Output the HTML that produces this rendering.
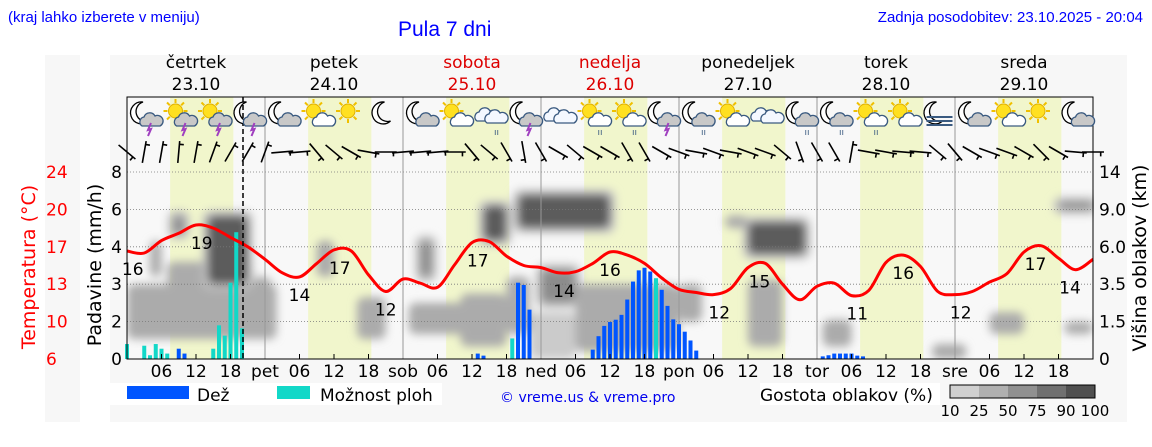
<!DOCTYPE html>
<html><head><meta charset="utf-8">
<style>
body{margin:0;background:#fff;width:1152px;height:443px;overflow:hidden;font-family:"DejaVu Sans","Liberation Sans",sans-serif}
svg text{font-family:"DejaVu Sans","Liberation Sans",sans-serif}
.hdr{font-family:"Liberation Sans",sans-serif;fill:#0000ff}
</style></head><body>
<svg id="chart" width="1152" height="443" viewBox="0 0 1152 443" xmlns="http://www.w3.org/2000/svg">
<defs><filter id="blur" x="-30%" y="-30%" width="160%" height="160%"><feGaussianBlur stdDeviation="4.5"/></filter>
<clipPath id="plotclip"><rect x="127" y="172" width="967" height="187"/></clipPath></defs>
<rect x="45" y="55" width="35" height="367" fill="#f7f7f7"/>
<rect x="110" y="55" width="1017" height="367" fill="#f7f7f7"/>
<text class="hdr" x="8" y="22" font-size="15">(kraj lahko izberete v meniju)</text>
<text class="hdr" x="398" y="36" font-size="21">Pula 7 dni</text>
<text class="hdr" x="1143" y="22" font-size="15" text-anchor="end">Zadnja posodobitev: 23.10.2025 - 20:04</text>
<g id="plot"></g>
</svg>
<script>
const days=["četrtek","petek","sobota","nedelja","ponedeljek","torek","sreda"];
const dates=["23.10","24.10","25.10","26.10","27.10","28.10","29.10"];
const dayAbbr=["","pet","sob","ned","pon","tor","sre"];
const weekend=[false,false,true,true,false,false,false];
const tempTicks=[6,10,13,17,20,24];
const rainTicks=[0,2,3,4,6,8];
const cloudTicks=["0","1.5","3.5","6.0","9.0","14"];
const cloudKm=[0,1.5,3.5,6,9,14];
// temperature every 3 hours from h0 to h168
const temps=[16.4,16.2,17.4,18.1,18.9,18.6,17.7,16.8,15.6,14.3,13.9,15.2,16.5,16.4,14.1,12.5,13.7,13.3,12.9,15.1,17.2,17.3,15.9,15.0,14.8,14.3,14.4,15.2,16.3,16.0,15.2,13.8,12.7,12.4,12.2,12.8,14.8,15.2,13.2,11.7,13.0,13.3,12.1,12.6,15.3,16.0,14.9,12.5,12.2,12.5,13.4,14.2,16.3,16.9,15.7,14.6,15.6];
const labelHours=[1,13,30,37,45,61,76,84,103,110,127,135,145,158,164];
const labelTemps=[16,19,14,17,12,17,14,16,12,15,11,16,12,17,14];
// rain (Dež) hourly
const rainHours=[9,10,61,62,68,69,70,81,82,83,84,85,86,87,88,89,90,91,93,94,95,96,97,98,99,121,122,123,124,125,126,127,128];
const rainVals=[0.55,0.29,0.29,0.18,3.04,2.98,2.32,0.5,1.22,1.77,1.98,2.05,2.18,2.59,3.07,3.37,3.44,3.34,2.85,2.42,2.06,1.86,1.46,0.99,0.45,0.14,0.2,0.29,0.29,0.29,0.29,0.18,0.14];
// showers (Možnost ploh)
const showerHours=[0,3,4,5,6,7,15,16,17,18,19,20,67,92];
const showerVals=[0.8,0.71,0.2,0.8,0.55,0.29,0.55,1.8,1.25,3.04,4.78,1.64,1.1,3.16];
// cloud blobs: start hour, end hour, low km, high km, density level
const cloudH0=[0,7,14,4,8,22,33,40,49,51,58,62,66,68,72,78,70,96,108,108,104,121,140,150,163,162];
const cloudH1=[26,22,21,6,10,25,36,45,60,53,66,66,70,84,78,96,78,100,114,118,108,126,146,156,168,168];
const cloudLo=[0.8,1.5,3.5,4,7,1.5,4,0.8,1,4,0.5,6.5,1,7.5,2.5,0.3,0,1.5,0.5,5.5,7.5,0.5,0,1,1,9];
const cloudHi=[3.5,5,8.5,6.5,8.5,4,6.5,2.8,2.5,6.5,3,9.5,4,11,4.5,3.5,2,3.5,3.8,8,8.5,1.6,0.6,2,1.5,10];
const cloudLvl=[2,2,4,2,3,2,2,2,2,3,2,4,2,4,3,2,1,2,2,4,2,2,2,2,2,3];
// wind line angle (deg) every 3h
const windDir=[-40,80,80,85,80,70,60,60,70,5,5,-50,-40,-30,-10,0,5,5,5,0,-50,-40,-60,-80,-60,-30,-40,-30,-30,-60,-60,-30,-20,-10,-20,-10,-20,-20,-40,-70,-60,-60,80,-10,-10,-5,-5,-40,-50,-30,-20,-20,-30,-45,-30,-5,0];
const icons=["ml","sl","sl","ml","mc","sc","s","m","mc","sc","cr","ml","cc","scr","scr","ml","mcr","sc","cc","mcr","mcr","scr","sc","mf","mc","sc","s","mc"];

const X0=127,DW=138,PW=DW*7,Y0=359,SEG=37.4;
const NS="http://www.w3.org/2000/svg";
const g=document.getElementById('plot');
function xH(h){return X0+h*PW/168;}
function yT(t){return Y0-(t-6)*(187/18);}
function yPiece(v,ticks){for(let i=0;i<ticks.length-1;i++){if(v<=ticks[i+1]){return Y0-(i+(v-ticks[i])/(ticks[i+1]-ticks[i]))*SEG;}}return Y0-5*SEG;}
function yR(v){return yPiece(v,rainTicks);}
function yC(v){return yPiece(v,cloudKm);}
function el(tag,attrs,parent){const e=document.createElementNS(NS,tag);for(const k in attrs)e.setAttribute(k,attrs[k]);(parent||g).appendChild(e);return e;}
function txt(x,y,s,attrs,parent){const e=el('text',Object.assign({x:x,y:y},attrs),parent);e.textContent=s;return e;}

const bg=el('rect',{x:X0,y:97,width:PW,height:262,fill:'#f8f8f8'});


for(let d=0;d<7;d++){
  const b=el('rect',{x:xH(d*24+7.5),y:97,width:xH(11)-X0,height:262,fill:'#f1f6cc'});
  
  
}
const cg=el('g',{'clip-path':'url(#plotclip)'});
const cf=el('g',{filter:'url(#blur)'},cg);
const lvlCol=['#d8d8d8','#cbcbcb','#ababab','#8c8c8c','#5c5c5c'];
for(let i=0;i<cloudH0.length;i++){
  const x1=xH(cloudH0[i]),x2=xH(cloudH1[i]),y1=yC(cloudHi[i]),y2=yC(cloudLo[i]);
  if(cloudLvl[i]>=3){const o=el('rect',{x:x1-5,y:y1-5,width:x2-x1+10,height:y2-y1+10,rx:8,fill:'#c4c4c4'},cf);}
  const r=el('rect',{x:x1,y:y1,width:x2-x1,height:y2-y1,rx:7,fill:lvlCol[cloudLvl[i]]},cf);
  
  
}
for(let i=1;i<6;i++){const l=el('line',{x1:X0,x2:X0+PW,y1:Y0-i*SEG,y2:Y0-i*SEG,stroke:'#777','stroke-dasharray':'1,2','stroke-width':0.8});}
for(let d=1;d<7;d++){const l=el('line',{x1:xH(d*24),x2:xH(d*24),y1:97,y2:Y0,stroke:'#999','stroke-width':1});}
const bw=4;
for(let i=0;i<showerHours.length;i++){const r=el('rect',{x:xH(showerHours[i])-bw/2,y:yR(showerVals[i]),width:bw,height:Y0-yR(showerVals[i]),fill:'#12d8c8'});}
for(let i=0;i<rainHours.length;i++){const r=el('rect',{x:xH(rainHours[i])-bw/2,y:yR(rainVals[i]),width:bw,height:Y0-yR(rainVals[i]),fill:'#0055ff'});}
const P=temps.map((t,i)=>[xH(i*3),yT(t)]);
let d='M'+P[0][0].toFixed(1)+','+P[0][1].toFixed(1);
for(let i=0;i<P.length-1;i++){const p0=P[Math.max(0,i-1)],p1=P[i],p2=P[i+1],p3=P[Math.min(P.length-1,i+2)];
  d+=`C${(p1[0]+(p2[0]-p0[0])/6).toFixed(1)},${(p1[1]+(p2[1]-p0[1])/6).toFixed(1)} ${(p2[0]-(p3[0]-p1[0])/6).toFixed(1)},${(p2[1]-(p3[1]-p1[1])/6).toFixed(1)} ${p2[0].toFixed(1)},${p2[1].toFixed(1)}`;}
const tl=el('path',{d:d,fill:'none',stroke:'#ff0000','stroke-width':3,'stroke-linejoin':'round'});


for(let i=0;i<labelHours.length;i++){
  const h=labelHours[i],k=Math.round(h/3);
  const t=txt(xH(h),yT(temps[Math.min(k,temps.length-1)])+24,String(labelTemps[i]),{'font-size':17,'text-anchor':'middle',fill:'#000'});
  
  
}
const nl=el('line',{x1:243,x2:243,y1:97,y2:Y0,stroke:'#000','stroke-dasharray':'5,3','stroke-width':1.5});


const fr=el('rect',{x:X0,y:97,width:PW,height:262,fill:'none',stroke:'#000','stroke-width':1});


windDir.forEach((a,i)=>{
  const cx=xH(i*3),cy=152,r=a*Math.PI/180,L=11;
  const dx=Math.cos(r)*L,dy=-Math.sin(r)*L;
  const w=el('path',{d:`M${cx-dx},${cy-dy}L${cx+dx},${cy+dy}m${-dx*0.3},${-dy*0.3}l${-dy*0.4},${dx*0.4}`,stroke:'#000','stroke-width':1.6,fill:'none'});
  
  
});
function moon(p,x,y){el('path',{d:`M${x+2},${y-11}a11,11 0 1,0 6,19a9,9 0 0,1 -6,-19z`,fill:'#fff',stroke:'#000','stroke-width':1.3},p);}
function sun(p,x,y){for(let k=0;k<8;k++){const a=k*Math.PI/4;el('line',{x1:x+Math.cos(a)*8,y1:y+Math.sin(a)*8,x2:x+Math.cos(a)*12,y2:y+Math.sin(a)*12,stroke:'#f0c000','stroke-width':2},p);}el('circle',{cx:x,cy:y,r:7,fill:'#ffe020',stroke:'#e0b000'},p);}
function cloud(p,x,y,f){el('path',{d:`M${x-9},${y+6}a5,5 0 0,1 2,-9a6,6 0 0,1 11,-1a5,5 0 0,1 5,10z`,fill:f,stroke:'#3a5a80','stroke-width':1.3},p);}
icons.forEach((t,i)=>{
  const x=145+i*34.5,y=115;
  const p=el('g',{});
  
  
  if(t[0]=='m')moon(p,x-4,y-2);
  if(t[0]=='s')sun(p,x-4,y-4);
  if(t=='cc'||t=='cr'){cloud(p,x-4,y,'#f4f8ff');cloud(p,x+6,y+2,'#f4f8ff');}
  else if(t.length>1&&t[1]=='c')cloud(p,x+6,y+5,t[0]=='m'?'#c8c8c8':'#fff');
  if(t[1]=='l'){cloud(p,x+6,y+5,'#c8c8c8');el('path',{d:`M${x+6},${y+8}l-3,7l3,-1l-3,7`,stroke:'#a040c0','stroke-width':2,fill:'none'},p);}
  if(t.endsWith('r'))el('text',{x:x+4,y:y+20,'font-size':9,fill:'#3a5a80'},p).textContent='ıı';
  if(t=='mf'){for(let k=0;k<3;k++)el('line',{x1:x-12,x2:x+14,y1:y+2+k*4,y2:y+2+k*4,stroke:'#3a5a80','stroke-width':2},p);}
});
for(let i=0;i<7;i++){
  const cx=xH(i*24+12),col=weekend[i]?'#dd0000':'#000';
  const a=txt(cx,68,days[i],{'font-size':17,'text-anchor':'middle',fill:col});
  const b=txt(cx,90,dates[i],{'font-size':17,'text-anchor':'middle',fill:col});
  ['06','12','18'].forEach((s,k)=>{const t=txt(xH(i*24+6*(k+1)),377,s,{'font-size':17,'text-anchor':'middle'});
    const tk=el('line',{x1:xH(i*24+6*(k+1)),x2:xH(i*24+6*(k+1)),y1:Y0,y2:Y0-5,stroke:'#000'});});
  if(dayAbbr[i]){const t=txt(xH(i*24),377,dayAbbr[i],{'font-size':17,'text-anchor':'middle'});}
}
for(let i=0;i<6;i++){
  const y=Y0-i*SEG+6;
  const a=txt(122,y,String(rainTicks[i]),{'font-size':17,'text-anchor':'end'});
  const b=txt(46,y,String(tempTicks[i]),{'font-size':17,fill:'#ff0000'});
  const c=txt(1099,y,cloudTicks[i],{'font-size':17});
}
const yl=txt(0,0,'Padavine (mm/h)',{'font-size':19,'text-anchor':'middle',transform:'translate(101,265) rotate(-90)'});
const tl2=txt(0,0,'Temperatura (°C)',{'font-size':19,'text-anchor':'middle',fill:'#ff0000',transform:'translate(35,267) rotate(-90)'});
const rl=txt(0,0,'Višina oblakov (km)',{'font-size':19,'text-anchor':'middle',transform:'translate(1146,258) rotate(-90)'});
const lg=el('g',{});
el('rect',{x:110,y:383,width:170,height:22,fill:'#fff'},lg);
el('rect',{x:127,y:386,width:62,height:13,fill:'#0055ff'},lg);
txt(197,401,'Dež',{'font-size':17},lg);
el('rect',{x:277,y:383,width:165,height:22,fill:'#fff'},lg);
el('rect',{x:277,y:386,width:33,height:13,fill:'#12d8c8'},lg);
txt(320,401,'Možnost ploh',{'font-size':17},lg);
txt(500,402,'© vreme.us & vreme.pro',{'font-size':14,fill:'#0000ee','font-family':'Liberation Sans,sans-serif'},lg);
el('rect',{x:760,y:383,width:180,height:22,fill:'#fff'},lg);
txt(760,401,'Gostota oblakov (%)',{'font-size':17},lg);
['#d0d0d0','#b0b0b0','#909090','#707070','#505050'].forEach((c,k)=>el('rect',{x:950+k*29,y:385,width:29,height:13,fill:c},lg));
el('rect',{x:950,y:385,width:145,height:13,fill:'none',stroke:'#000'},lg);
['10','25','50','75','90','100'].forEach((s,k)=>txt(950+k*29,416,s,{'font-size':15,'text-anchor':'middle'},lg));
</script>
</body></html>
